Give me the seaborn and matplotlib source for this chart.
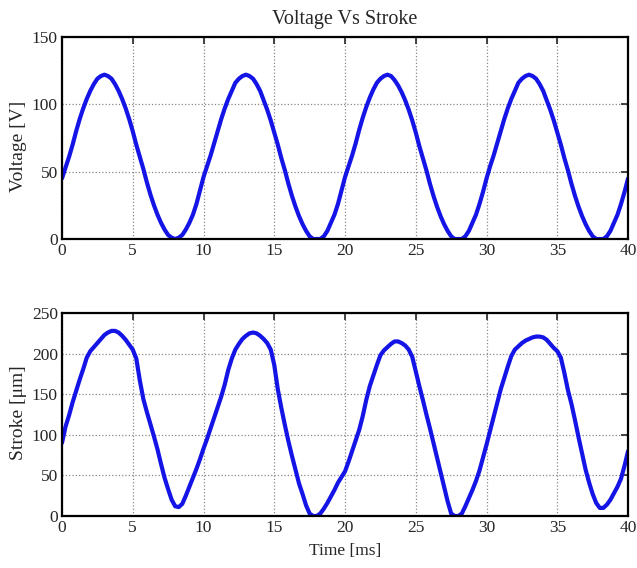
import numpy as np
import pandas as pd
import matplotlib
matplotlib.use("Agg")
import matplotlib.pyplot as plt
import seaborn as sns

# time axis (ms), sampled every 0.25 ms
time_ms = [i * 0.25 for i in range(161)]

# voltage [V] (4 values per ms)
voltage = [
    45, 53, 61, 70,   80, 89, 97, 104,   110, 115, 119, 121,   122, 121, 119, 115,
    110, 104, 97, 89,   80, 70, 61, 52,   42, 33, 25, 18,   12, 7, 3, 1,
    0, 1, 3, 7,   12, 18, 26, 36,
    46, 54, 62, 71,   80, 89, 97, 104,   110, 116, 119, 121,   122, 121, 119, 115,
    110, 103, 96, 88,   79, 70, 60, 51,   41, 32, 24, 17,   11, 6, 2, 0,
    0, 0, 2, 6,   12, 18, 26, 36,
    46, 54, 62, 71,   81, 90, 98, 105,   111, 116, 119, 121,   122, 121, 118, 114,
    109, 103, 96, 88,   79, 69, 60, 51,   41, 32, 24, 17,   11, 6, 2, 0,
    0, 0, 2, 6,   12, 18, 26, 35,
    45, 54, 62, 71,   80, 89, 97, 104,   110, 116, 119, 121,   122, 121, 119, 115,
    110, 103, 96, 88,   79, 70, 60, 51,   41, 32, 24, 17,   11, 6, 2, 0,
    0, 0, 2, 6,   12, 18, 26, 35,
    45,
]

# stroke [um] (4 values per ms)
stroke = [
    90, 110, 124, 140,   154, 168, 181, 195,   203, 208, 213, 218,   223, 226, 228, 228,
    226, 222, 217, 211,   205, 194, 167, 144,   128, 113, 98, 82,   64, 47, 33, 20,
    12, 11, 15, 25,   36, 47, 58, 70,
    83, 95, 108, 121,   134, 147, 162, 180,   194, 205, 212, 218,   222, 225, 226, 225,
    222, 218, 213, 205,   186, 156, 133, 112,   92, 74, 57, 40,   27, 13, 3, 0,
    0, 3, 9, 16,   24, 32, 41, 48,
    55, 67, 80, 93,   106, 123, 143, 160,   173, 186, 198, 204,   208, 212, 215, 215,
    213, 210, 205, 196,   178, 160, 143, 125,   108, 90, 72, 54,   36, 18, 3, 0,
    0, 3, 12, 22,   32, 43, 56, 72,
    88, 105, 122, 139,   156, 170, 184, 197,   205, 209, 213, 216,   218, 220, 221, 221,
    220, 217, 212, 207,   203, 195, 176, 155,   138, 118, 97, 77,   57, 41, 27, 16,
    10, 10, 14, 20,   28, 36, 46, 62,
    80,
]

df = pd.DataFrame({"Time": time_ms, "Voltage": voltage, "Stroke": stroke})

sns.set_style("white")
plt.rcParams["font.family"] = ["Liberation Serif", "DejaVu Serif"]

fig = plt.figure(figsize=(6.37, 5.68), dpi=100)
ax1 = fig.add_axes([0.0973, 0.5792, 0.8887, 0.3557])
ax2 = fig.add_axes([0.0973, 0.0915, 0.8887, 0.3574])

line_color = "#1414E6"

sns.lineplot(data=df, x="Time", y="Voltage", ax=ax1, color=line_color, linewidth=3.0)
sns.lineplot(data=df, x="Time", y="Stroke", ax=ax2, color=line_color, linewidth=3.0)

ax1.set_ylim(0, 150)
ax1.set_yticks([0, 50, 100, 150])
ax2.set_ylim(0, 250)
ax2.set_yticks([0, 50, 100, 150, 200, 250])

for ax in (ax1, ax2):
    ax.set_xlim(0, 40)
    ax.set_xticks(range(0, 41, 5))
    ax.grid(True, linestyle=":", color="#888888", linewidth=0.9)
    ax.tick_params(direction="in", top=True, right=True, length=5, width=1.2,
                   labelsize=12.5, pad=3)
    for s in ax.spines.values():
        s.set_linewidth(1.6)
        s.set_color("black")

ax1.set_title("Voltage Vs Stroke", fontsize=14.5, pad=9)
ax1.set_xlabel("")
ax1.set_ylabel("Voltage [V]", fontsize=14)
ax1.yaxis.set_label_coords(-0.062, 0.46)
ax2.set_xlabel("Time [ms]", fontsize=12.5, labelpad=5)
ax2.set_ylabel("Stroke [\u03bcm]", fontsize=14)
ax2.yaxis.set_label_coords(-0.062, 0.51)

fig.savefig("out.png", dpi=100)
